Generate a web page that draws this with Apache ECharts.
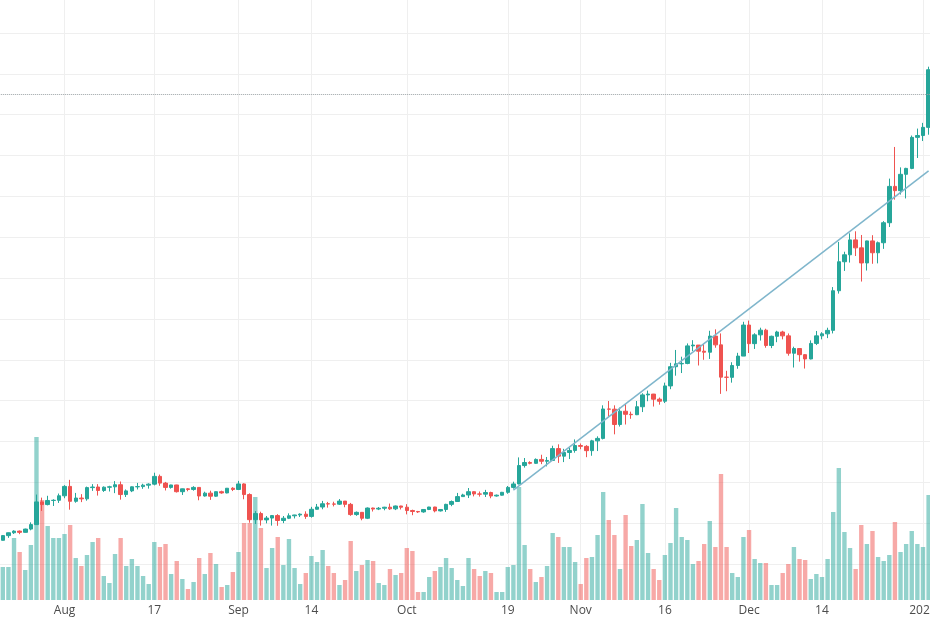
<!DOCTYPE html>
<html>
<head>
<meta charset="utf-8">
<script src="https://cdn.jsdelivr.net/npm/echarts/dist/echarts.min.js"></script>
<style>
  html, body { margin: 0; padding: 0; background: #fff; }
  #chart { width: 930px; height: 620px; }
</style>
</head>
<body>
<div id="chart"></div>
<script>
// daily candles, 2020-07-20 .. 2021-01-02  [open, close, low, high]
const ohlc = [
  [9190, 9160, 9130, 9230], [9160, 9390, 9150, 9420], [9390, 9530, 9280, 9540], [9530, 9610, 9470, 9650],
  [9610, 9550, 9460, 9640], [9550, 9710, 9540, 9730], [9710, 9930, 9650, 10040], [9930, 11040, 9920, 11400],
  [11040, 10910, 10600, 11250], [10910, 11110, 10870, 11340], [11110, 11120, 10840, 11170], [11120, 11340, 10990, 11450],
  // Aug
  [11340, 11800, 11220, 11860], [11800, 11070, 10660, 12120], [11070, 11230, 11000, 11480], [11230, 11190, 11030, 11420],
  [11190, 11740, 11100, 11790], [11740, 11770, 11580, 11910], [11770, 11600, 11350, 11910], [11600, 11760, 11530, 11800],
  [11760, 11780, 11550, 11830], [11780, 11880, 11470, 12060], [11880, 11400, 11150, 12040], [11400, 11580, 11280, 11650],
  [11580, 11780, 11520, 11800], [11780, 11790, 11650, 11970], [11790, 11860, 11680, 11930], [11860, 11910, 11690, 11950],
  [11910, 12290, 11850, 12470], [12290, 11960, 11830, 12380], [11960, 11750, 11600, 12020], [11750, 11870, 11690, 11880],
  [11870, 11540, 11500, 11880], [11540, 11680, 11380, 11690], [11680, 11650, 11560, 11720], [11650, 11750, 11590, 11810],
  [11750, 11330, 11120, 11760], [11330, 11470, 11300, 11540], [11470, 11320, 11140, 11590], [11320, 11540, 11290, 11550],
  [11540, 11480, 11440, 11590], [11480, 11710, 11460, 11720], [11710, 11650, 11570, 11760],
  // Sep
  [11650, 11920, 11620, 12070], [11920, 11400, 11170, 11950], [11400, 10170, 10020, 11460], [10170, 10470, 9960, 10590],
  [10470, 10160, 9880, 10560], [10160, 10250, 9990, 10350], [10250, 10370, 9880, 10400], [10370, 10130, 9870, 10440],
  [10130, 10240, 10000, 10350], [10240, 10360, 10200, 10480], [10360, 10400, 10230, 10410], [10400, 10440, 10300, 10480],
  [10440, 10330, 10210, 10580], [10330, 10680, 10270, 10800], [10680, 10790, 10660, 10940], [10790, 10950, 10680, 11090],
  [10950, 10940, 10760, 11040], [10940, 10930, 10820, 11050], [10930, 11080, 10890, 11180], [11080, 10920, 10780, 11080],
  [10920, 10420, 10360, 10990], [10420, 10530, 10360, 10570], [10530, 10240, 10140, 10540], [10240, 10740, 10200, 10770],
  [10740, 10690, 10570, 10760], [10690, 10730, 10640, 10790], [10730, 10780, 10630, 10800], [10780, 10700, 10650, 10960],
  [10700, 10840, 10640, 10860], [10840, 10780, 10670, 10850],
  // Oct
  [10780, 10620, 10430, 10930], [10620, 10570, 10390, 10660], [10570, 10550, 10500, 10600], [10550, 10670, 10510, 10680],
  [10670, 10790, 10640, 10800], [10790, 10600, 10530, 10800], [10600, 10670, 10570, 10690], [10670, 10920, 10550, 10950],
  [10920, 11060, 10830, 11110], [11060, 11300, 11050, 11480], [11300, 11380, 11290, 11440], [11380, 11540, 11230, 11720],
  [11540, 11430, 11310, 11560], [11430, 11420, 11300, 11550], [11420, 11500, 11280, 11630], [11500, 11330, 11220, 11540],
  [11330, 11370, 11300, 11400], [11370, 11510, 11350, 11530], [11510, 11750, 11440, 11820], [11750, 11920, 11690, 12030],
  [11920, 12820, 11900, 13220], [12820, 12970, 12720, 13190], [12970, 12930, 12880, 13030], [12930, 13120, 12900, 13170],
  [13120, 13030, 12890, 13350], [13030, 13070, 12780, 13240], [13070, 13650, 13050, 13790], [13650, 13280, 12950, 13860],
  [13280, 13460, 12990, 13640], [13460, 13560, 13140, 13700], [13560, 13800, 13450, 14100],
  // Nov
  [13800, 13760, 13620, 13900], [13760, 13550, 13230, 13820], [13550, 14030, 13300, 14080], [14030, 14150, 13530, 14250],
  [14150, 15590, 14100, 15770], [15590, 15580, 15210, 15980], [15580, 14830, 14350, 15770], [14830, 15480, 14730, 15660],
  [15480, 15330, 14830, 15840], [15330, 15310, 15110, 15460], [15310, 15700, 15290, 15980], [15700, 16280, 15440, 16360],
  [16280, 16320, 15970, 16490], [16320, 16070, 15710, 16330], [16070, 15970, 15800, 16150], [15970, 16720, 15880, 16880],
  [16720, 17660, 16560, 17850], [17660, 17800, 17220, 18480], [17800, 17820, 17350, 18150], [17820, 18680, 17780, 18800],
  [18680, 18720, 18430, 18960], [18720, 18420, 17720, 18720], [18420, 18370, 18000, 18770], [18370, 19160, 18040, 19420],
  [19160, 18730, 18590, 19490], [18730, 17150, 16330, 19290], [17150, 17140, 16460, 17460], [17140, 17720, 16880, 17880],
  [17720, 18180, 17560, 18340], [18180, 19700, 18180, 19860],
  // Dec
  [19700, 18790, 18330, 19920], [18790, 19220, 18530, 19300], [19220, 19450, 18940, 19570], [19450, 18700, 18590, 19520],
  [18700, 19150, 18570, 19180], [19150, 19360, 18860, 19420], [19360, 19170, 19000, 19420], [19170, 18320, 18200, 19290],
  [18320, 18550, 17620, 18640], [18550, 18250, 17910, 18560], [18250, 18040, 17570, 18280], [18040, 18800, 18020, 18950],
  [18800, 19170, 18720, 19410], [19170, 19270, 19000, 19350], [19270, 19440, 19060, 19570], [19440, 21380, 19290, 21560],
  [21380, 22800, 21240, 23770], [22800, 23140, 22350, 23290], [23140, 23870, 22760, 24190], [23870, 23480, 23080, 24290],
  [23480, 22740, 21830, 24110], [22740, 23820, 22370, 23830], [23820, 23240, 22700, 24100], [23240, 23730, 22720, 23790],
  [23730, 24710, 23430, 24790], [24710, 26490, 24500, 26870], [26490, 26280, 25840, 28420], [26280, 27080, 26090, 27420],
  [27080, 27370, 25900, 27400], [27370, 28890, 27330, 28980], [28890, 28980, 27880, 29320],
  // Jan
  [28980, 29380, 28710, 29600], [29380, 32200, 29020, 32350]
];

const volume = [
  40, 33, 33, 62, 48, 30, 55, 163, 100, 74, 62, 62,
  66, 75, 42, 34, 45, 58, 62, 24, 17, 46, 62, 34, 41, 34, 24, 16, 58, 53, 56, 26, 39, 21, 11, 18, 42, 26, 47, 36, 13, 15, 28,
  48, 77, 77, 103, 72, 32, 52, 63, 35, 61, 32, 16, 27, 44, 38, 50, 34, 27, 15, 20, 59, 29, 35, 40, 39, 17, 15, 31, 25, 27,
  52, 49, 8, 8, 23, 29, 33, 42, 32, 20, 14, 42, 31, 24, 29, 27, 8, 8, 33, 35, 113, 55, 31, 18, 23, 34, 67, 63, 53, 53, 38,
  16, 42, 43, 65, 108, 80, 65, 31, 85, 54, 60, 96, 47, 31, 20, 45, 57, 92, 63, 60, 36, 39, 56, 79, 53, 126, 53, 27, 23, 63,
  70, 41, 37, 37, 15, 15, 27, 36, 53, 41, 40, 21, 26, 23, 41, 88, 132, 68, 52, 31, 75, 56, 69, 43, 39, 45, 78, 48, 56, 69, 56,
  53, 105
];

const tickDates = ['2020-08-01', '2020-08-17', '2020-09-01', '2020-09-14', '2020-10-01', '2020-10-19',
  '2020-11-01', '2020-11-16', '2020-12-01', '2020-12-14', '2021-01-01'];
const tickLabels = ['Aug', '17', 'Sep', '14', 'Oct', '19', 'Nov', '16', 'Dec', '14', '2021'];

// trend line end points and the dotted price line
const trendStart = ['2020-10-20', 11620];
const trendEnd = ['2021-01-02', 27250];
const priceLine = 31000;

// one extra empty day so the last candle sits just inside the right edge
const dates = [];
for (let i = 0; i <= ohlc.length; i++) {
  dates.push(new Date(Date.UTC(2020, 6, 20) + i * 86400000).toISOString().slice(0, 10));
}

const UP = '#26a69a';
const DOWN = '#ef5350';
const GRID = '#efefef';

const candles = ohlc.concat([['-', '-', '-', '-']]);
const volBars = volume.map((v, i) => ({
  value: v,
  itemStyle: { color: ohlc[i][1] >= ohlc[i][0] ? 'rgba(38,166,154,0.5)' : 'rgba(239,83,80,0.5)' }
})).concat(['-']);

const isTick = (idx, val) => tickDates.indexOf(val) !== -1;

const chart = echarts.init(document.getElementById('chart'));
chart.setOption({
  animation: false,
  backgroundColor: '#ffffff',
  grid: [
    { left: -2.8, right: -4.2, top: 33, bottom: 56, containLabel: false, outerBoundsMode: 'none' },
    { left: -2.8, right: -4.2, top: 0, bottom: 20, containLabel: false, outerBoundsMode: 'none' }
  ],
  xAxis: [
    {
      type: 'category', gridIndex: 0, data: dates, boundaryGap: false,
      axisLine: { show: false }, axisTick: { show: false }, axisLabel: { show: false }, splitLine: { show: false }
    },
    {
      type: 'category', gridIndex: 1, data: dates, boundaryGap: false,
      axisLine: { show: false }, axisTick: { show: false },
      axisLabel: {
        interval: isTick,
        formatter: (val) => tickLabels[tickDates.indexOf(val)] || '',
        color: '#4c4c4c', fontSize: 12, fontFamily: 'Open Sans', margin: 5
      },
      splitLine: { show: true, interval: isTick, lineStyle: { color: GRID, width: 1 } }
    }
  ],
  yAxis: [
    {
      type: 'value', gridIndex: 0, min: 8000, max: 34000, interval: 2000, position: 'right',
      axisLine: { show: false }, axisTick: { show: false }, axisLabel: { show: false },
      splitLine: { show: true, lineStyle: { color: GRID, width: 1 } }
    },
    {
      type: 'value', gridIndex: 1, min: 0, max: 600, show: false, splitLine: { show: false }
    }
  ],
  series: [
    {
      name: 'Volume', type: 'bar', xAxisIndex: 1, yAxisIndex: 1,
      data: volBars, barWidth: '78%', z: 2
    },
    {
      name: 'Price', type: 'candlestick', xAxisIndex: 0, yAxisIndex: 0,
      data: candles, barWidth: 4, z: 3,
      itemStyle: { color: UP, color0: DOWN, borderColor: UP, borderColor0: DOWN, borderWidth: 1 },
      markLine: {
        silent: true, symbol: ['none', 'none'], animation: false,
        label: { show: false },
        lineStyle: { color: '#7fb6cc', width: 1.5, type: 'solid' },
        data: [
          [{ coord: trendStart }, { coord: trendEnd }],
          { yAxis: priceLine, lineStyle: { color: '#9ca3a6', width: 1, type: 'dotted' } }
        ]
      }
    }
  ]
});
</script>
</body>
</html>
